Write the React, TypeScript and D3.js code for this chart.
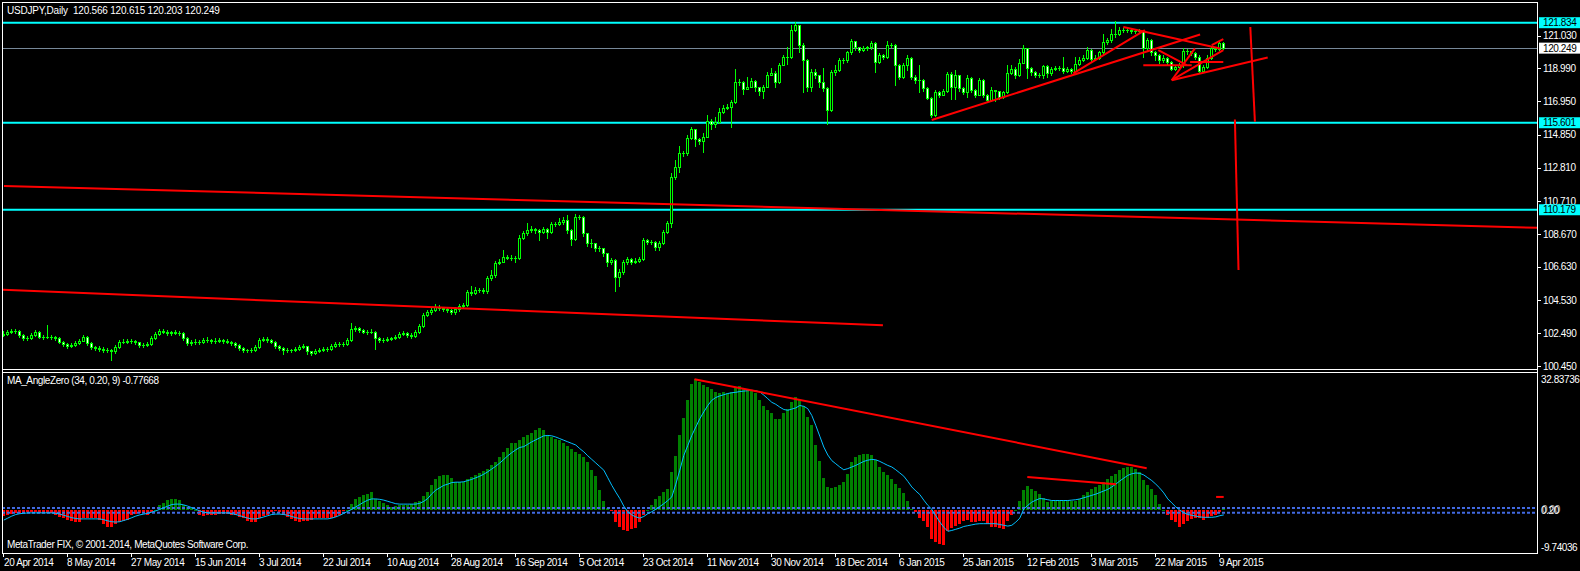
import React from "react";
import * as d3 from "d3";

// ---------- DATA ----------
const TITLE = "USDJPY,Daily  120.566 120.615 120.203 120.249";
const IND_TITLE = "MA_AngleZero (34, 0.20, 9) -0.77668";
const FOOTER = "MetaTrader FIX, \u00A9 2001-2014, MetaQuotes Software Corp.";

const firstOpen = 102.4;

const closes = [
  102.45, 102.57, 102.64, 102.64, 102.39, 102.18, 102.16, 102.39, 102.59, 102.28,
  102.24, 102.28, 102.24, 102.18, 101.97, 101.83, 101.70, 101.76, 101.87, 102.03,
  102.24, 101.87, 101.62, 101.56, 101.52, 101.45, 101.41, 101.35, 101.62, 101.97,
  101.97, 102.01, 102.01, 101.91, 101.76, 101.76, 101.83, 102.18, 102.45, 102.64,
  102.59, 102.49, 102.55, 102.53, 102.49, 102.18, 101.87, 101.91, 101.97, 101.91,
  102.08, 102.08, 101.99, 102.03, 102.08, 102.01, 101.97, 101.87, 101.76, 101.56,
  101.45, 101.41, 101.45, 101.62, 102.08, 102.12, 102.08, 101.97, 101.70, 101.56,
  101.45, 101.41, 101.41, 101.50, 101.62, 101.66, 101.35, 101.25, 101.39, 101.45,
  101.50, 101.50, 101.70, 101.83, 101.83, 101.83, 102.08, 102.74, 102.80, 102.66,
  102.59, 102.59, 102.59, 102.18, 102.08, 102.08, 102.12, 102.16, 102.24, 102.45,
  102.49, 102.39, 102.32, 102.59, 102.91, 103.63, 103.78, 103.94, 104.15, 104.05,
  103.98, 103.94, 103.78, 103.98, 104.19, 104.25, 105.05, 105.00, 105.20, 105.20,
  105.10, 105.90, 106.10, 106.85, 106.95, 107.25, 107.20, 107.20, 107.15, 108.44,
  108.70, 108.90, 109.00, 108.90, 108.80, 109.00, 108.80, 109.30, 109.28, 109.40,
  109.55, 108.90, 108.34, 109.75, 109.75, 108.70, 108.10, 108.10, 107.80, 107.80,
  107.50, 106.95, 107.05, 106.00, 106.30, 106.90, 107.10, 106.95, 107.00, 107.10,
  108.30, 108.20, 108.20, 107.85, 108.10, 108.78, 109.34, 112.24, 112.86, 113.70,
  113.70, 114.67, 115.20, 114.60, 114.46, 114.73, 115.70, 115.55, 115.66, 116.24,
  116.53, 116.60, 116.87, 118.11, 118.15, 117.70, 117.84, 118.20, 117.80, 117.57,
  117.84, 118.57, 118.73, 118.15, 119.19, 119.70, 119.70, 121.37, 121.68, 120.47,
  119.50, 117.84, 118.77, 118.57, 118.15, 117.74, 116.39, 118.77, 118.88, 119.50,
  119.50, 119.98, 120.68, 120.33, 120.12, 120.27, 120.29, 120.60, 119.40, 119.80,
  119.70, 120.43, 120.47, 119.19, 118.46, 119.19, 119.66, 118.46, 118.26, 118.26,
  117.78, 117.16, 116.08, 117.53, 117.36, 117.57, 118.61, 117.84, 118.57, 117.74,
  117.53, 118.36, 117.63, 117.36, 118.26, 117.32, 117.00, 117.63, 117.57, 117.22,
  117.49, 118.73, 118.98, 118.57, 119.35, 120.23, 119.02, 118.77, 118.57, 118.57,
  119.15, 118.67, 118.98, 119.02, 119.02, 118.82, 118.94, 118.82, 119.29, 119.54,
  119.65, 120.12, 119.60, 119.64, 119.98, 120.64, 120.74, 121.16, 121.10, 121.37,
  121.37, 121.37, 121.30, 121.30, 121.30, 120.23, 120.74, 119.98, 119.81, 119.50,
  119.65, 119.40, 118.98, 119.08, 119.19, 120.06, 120.06, 119.92, 119.71, 118.82,
  119.08, 119.65, 120.23, 120.19, 120.566, 120.249,
];

const highs = [
  102.62, 102.70, 102.75, 102.78, 102.70, 102.45, 102.30, 102.48, 102.70, 102.65,
  102.36, 103.00, 102.36, 102.30, 102.24, 102.02, 101.90, 101.88, 101.98, 102.15,
  102.36, 102.30, 101.93, 101.70, 101.66, 101.60, 101.55, 101.52, 101.75, 102.08,
  102.10, 102.12, 102.14, 102.08, 101.96, 101.90, 101.95, 102.30, 102.58, 102.78,
  102.75, 102.66, 102.65, 102.66, 102.64, 102.55, 102.24, 102.04, 102.10, 102.06,
  102.20, 102.22, 102.14, 102.16, 102.20, 102.15, 102.10, 102.02, 101.92, 101.80,
  101.62, 101.53, 101.56, 101.74, 102.20, 102.24, 102.22, 102.12, 102.00, 101.75,
  101.62, 101.55, 101.52, 101.62, 101.75, 101.80, 101.70, 101.40, 101.50, 101.56,
  101.62, 101.62, 101.82, 101.95, 101.95, 101.95, 102.20, 103.10, 102.95, 102.85,
  102.72, 102.70, 102.72, 102.65, 102.25, 102.20, 102.25, 102.28, 102.35, 102.58,
  102.62, 102.55, 102.48, 102.70, 103.05, 103.75, 103.92, 104.08, 104.28, 104.22,
  104.12, 104.08, 104.00, 104.10, 104.30, 104.38, 105.20, 105.40, 105.35, 105.33,
  105.30, 106.05, 106.40, 107.00, 107.10, 107.70, 107.38, 107.35, 107.30, 108.60,
  108.85, 109.35, 109.15, 109.05, 109.00, 109.10, 109.05, 109.40, 109.40, 109.65,
  109.75, 109.85, 108.95, 109.90, 109.85, 109.80, 108.70, 108.35, 108.10, 107.95,
  107.70, 107.50, 107.20, 107.10, 106.50, 107.05, 107.25, 107.15, 107.15, 107.25,
  108.40, 108.35, 108.30, 108.25, 108.25, 108.90, 109.45, 112.45, 113.25, 114.15,
  113.85, 114.85, 115.35, 115.20, 114.65, 114.95, 116.10, 115.85, 115.95, 116.55,
  116.70, 116.74, 117.00, 118.94, 118.35, 118.20, 118.46, 118.40, 118.25, 117.85,
  117.98, 118.75, 119.00, 118.80, 119.35, 119.82, 120.30, 121.72, 121.85, 121.70,
  120.60, 119.60, 118.95, 118.98, 118.60, 119.00, 117.80, 118.90, 119.20, 119.62,
  119.62, 120.10, 120.80, 120.70, 120.35, 120.38, 120.40, 120.70, 120.65, 119.95,
  119.90, 120.70, 120.60, 120.50, 119.25, 119.35, 119.80, 119.70, 118.55, 119.19,
  118.30, 117.85, 117.20, 117.65, 117.60, 117.70, 118.77, 118.77, 118.90, 118.60,
  117.80, 118.55, 118.45, 117.70, 118.40, 118.30, 117.40, 117.80, 117.63, 117.60,
  117.60, 119.19, 119.19, 119.05, 119.60, 120.43, 120.25, 119.10, 118.85, 118.70,
  119.19, 119.19, 119.10, 119.15, 119.15, 119.70, 119.05, 119.00, 119.70, 119.70,
  119.80, 120.33, 120.20, 119.80, 120.10, 121.16, 120.90, 121.47, 121.93, 121.55,
  121.50, 121.50, 121.45, 121.42, 121.42, 121.40, 120.90, 120.80, 120.05, 119.90,
  119.80, 119.70, 119.45, 119.20, 119.30, 120.23, 120.20, 120.10, 120.00, 119.80,
  119.20, 119.80, 120.35, 120.35, 120.70, 120.615,
];

const lows = [
  102.30, 102.38, 102.48, 102.52, 102.28, 102.05, 102.05, 102.10, 102.33, 102.20,
  102.12, 102.18, 102.15, 102.08, 101.85, 101.70, 101.58, 101.62, 101.70, 101.80,
  101.98, 101.78, 101.50, 101.45, 101.40, 101.33, 101.30, 100.83, 101.28, 101.55,
  101.85, 101.88, 101.90, 101.80, 101.65, 101.64, 101.70, 101.76, 102.10, 102.38,
  102.48, 102.38, 102.40, 102.42, 102.38, 102.06, 101.75, 101.78, 101.82, 101.80,
  101.85, 101.96, 101.88, 101.90, 101.95, 101.90, 101.86, 101.75, 101.64, 101.45,
  101.33, 101.30, 101.32, 101.40, 101.55, 101.98, 101.96, 101.85, 101.58, 101.44,
  101.20, 101.30, 101.30, 101.36, 101.45, 101.55, 101.22, 101.13, 101.18, 101.30,
  101.38, 101.40, 101.45, 101.65, 101.72, 101.72, 101.78, 102.00, 102.62, 102.55,
  102.48, 102.46, 102.48, 101.50, 101.95, 101.96, 101.98, 102.04, 102.10, 102.18,
  102.38, 102.28, 102.20, 102.25, 102.52, 102.85, 103.55, 103.70, 103.88, 103.92,
  103.85, 103.82, 103.66, 103.70, 103.90, 104.12, 104.20, 104.88, 104.90, 105.05,
  104.98, 105.00, 105.80, 106.00, 106.80, 106.90, 107.08, 107.05, 106.90, 107.10,
  108.35, 108.60, 108.82, 108.75, 108.30, 108.70, 108.45, 108.75, 109.15, 109.20,
  109.30, 108.70, 108.00, 108.30, 109.60, 108.55, 107.90, 107.85, 107.60, 107.62,
  107.30, 106.70, 106.80, 105.10, 105.45, 106.20, 106.80, 106.80, 106.85, 106.90,
  107.05, 108.05, 108.05, 107.70, 107.70, 108.05, 108.70, 109.10, 112.10, 112.55,
  113.55, 113.60, 114.60, 114.15, 114.30, 113.80, 114.75, 115.20, 115.35, 115.60,
  116.20, 116.45, 115.35, 116.80, 117.95, 117.40, 117.70, 117.80, 117.60, 117.35,
  117.16, 117.80, 118.55, 117.80, 118.10, 119.20, 119.25, 119.65, 121.30, 120.00,
  117.53, 117.60, 117.60, 118.40, 117.85, 117.55, 115.50, 116.35, 118.60, 118.80,
  119.35, 119.40, 119.90, 120.15, 120.00, 120.05, 120.15, 120.20, 118.78, 119.30,
  119.55, 119.65, 120.30, 117.94, 118.30, 118.40, 118.90, 118.30, 118.10, 117.53,
  117.60, 117.05, 115.97, 116.05, 117.20, 117.30, 117.50, 117.10, 117.10, 117.60,
  117.40, 117.22, 117.50, 117.22, 117.30, 117.20, 116.90, 116.95, 116.95, 117.10,
  117.15, 117.45, 118.65, 118.40, 118.50, 119.30, 118.40, 118.60, 118.45, 118.45,
  118.38, 118.48, 118.60, 118.90, 118.90, 118.67, 118.75, 118.70, 118.75, 119.20,
  119.45, 119.60, 119.45, 119.50, 119.55, 119.90, 120.50, 120.65, 120.95, 121.05,
  121.25, 121.25, 121.20, 121.18, 121.18, 119.70, 120.10, 119.85, 119.50, 119.35,
  119.40, 119.25, 118.90, 118.90, 119.00, 119.10, 119.90, 119.80, 119.60, 118.67,
  118.75, 119.00, 119.60, 120.05, 120.15, 120.203,
];

const histogram = [
  -1.5, -1.1, -0.9, -0.6, -0.6, -0.6, -0.4, -0.4, -0.4, -0.6,
  -0.6, -0.6, -0.6, -1.1, -1.8, -2.1, -2.5, -2.7, -3.1, -3.1,
  -2.1, -2.1, -2.1, -2.1, -2.5, -3.4, -4.2, -4.2, -3.6, -3.1,
  -2.8, -2.5, -1.1, -0.9, -0.6, -0.6, -1.1, -0.4, 0.1, 1.2,
  1.9, 2.6, 2.9, 2.9, 2.6, 1.4, 0.8, 0.5, 0.05, -1.3,
  -1.5, -1.3, -1.1, -1.1, -0.9, -0.9, -0.9, -1.1, -1.3, -1.7,
  -2.1, -2.8, -3.1, -3.1, -2.1, -1.5, -1.1, -0.4, -0.3, -0.4,
  -1.1, -1.7, -2.3, -2.8, -3.0, -2.8, -2.8, -2.5, -2.1, -2.1,
  -2.1, -2.1, -2.1, -1.8, -1.3, -0.3, 0.05, 1.6, 2.9, 3.3,
  3.7, 4.1, 4.5, 2.9, 2.2, 1.9, 1.4, 0.8, 1.0, 1.2,
  1.2, 1.4, 1.6, 2.0, 2.2, 3.5, 4.5, 6.2, 7.7, 8.5,
  8.9, 8.7, 8.1, 7.1, 7.1, 7.1, 7.9, 8.3, 8.7, 9.4,
  9.9, 10.4, 11.4, 12.0, 13.3, 14.6, 15.6, 16.9, 16.9, 17.5,
  18.3, 18.9, 19.4, 20.0, 20.6, 20.0, 18.7, 18.3, 17.9, 17.5,
  16.9, 16.0, 15.2, 14.6, 14.1, 13.3, 12.1, 10.0, 8.6, 5.0,
  2.2, 0.5, -0.3, -3.0, -4.2, -5.1, -5.2, -4.8, -4.6, -3.1,
  -1.1, 0.05, 1.4, 2.9, 3.5, 4.5, 5.4, 9.5, 13.6, 18.7,
  23.1, 27.5, 31.7, 32.8, 32.1, 31.4, 30.8, 30.4, 29.7, 29.4,
  29.6, 29.4, 29.7, 30.6, 31.1, 30.4, 30.2, 30.0, 29.4, 27.5,
  26.1, 25.0, 24.4, 22.9, 22.9, 24.2, 25.4, 27.2, 28.3, 27.7,
  26.2, 23.3, 21.2, 16.4, 12.2, 8.1, 5.8, 5.5, 5.8, 6.2,
  7.0, 9.1, 12.1, 13.3, 13.9, 14.1, 14.1, 13.7, 12.5, 10.8,
  9.5, 8.7, 7.9, 6.6, 5.5, 4.4, 2.2, 0.4, -0.5, -2.1,
  -2.8, -4.2, -7.2, -8.0, -8.4, -8.7, -5.3, -4.6, -4.0, -3.4,
  -2.8, -2.6, -3.1, -3.1, -2.8, -2.8, -3.6, -4.2, -4.2, -4.4,
  -4.8, -2.8, -1.3, 0.05, 2.2, 5.0, 6.0, 5.2, 4.7, 4.1,
  3.0, 2.0, 2.4, 2.4, 2.4, 2.4, 2.4, 2.2, 2.4, 2.9,
  3.7, 4.5, 5.4, 5.8, 6.2, 7.0, 7.9, 8.5, 9.1, 10.0,
  10.5, 10.8, 10.8, 10.4, 9.5, 7.5, 6.2, 5.2, 3.9, 1.6,
  0.1, -1.1, -2.6, -3.0, -4.2, -3.4, -2.8, -2.3, -2.0, -2.1,
  -2.6, -2.1, -1.5, -1.1, -0.5, 0.5,
];

const signal = [
  -2.5, -2.0, -1.5, -1.1, -0.9, -0.8, -0.7, -0.7, -0.7, -0.7,
  -0.7, -0.7, -0.7, -0.8, -1.0, -1.3, -1.6, -1.9, -2.1, -2.2,
  -2.2, -2.2, -2.2, -2.2, -2.2, -2.4, -2.7, -2.9, -3.0, -2.9,
  -2.6, -2.3, -1.9, -1.5, -1.2, -1.0, -0.8, -0.5, -0.2, 0.2,
  0.6, 1.0, 1.4, 1.5, 1.5, 1.3, 1.0, 0.6, 0.2, -0.2,
  -0.5, -0.7, -0.7, -0.7, -0.7, -0.7, -0.7, -0.9, -1.1, -1.4,
  -1.7, -2.0, -2.2, -2.2, -2.0, -1.7, -1.4, -1.1, -1.0, -1.0,
  -1.1, -1.3, -1.6, -1.9, -2.1, -2.2, -2.2, -2.2, -2.2, -2.2,
  -2.2, -2.2, -2.0, -1.7, -1.3, -0.8, -0.3, 0.2, 0.8, 1.4,
  2.0, 2.5, 2.8, 2.8, 2.7, 2.5, 2.2, 1.9, 1.6, 1.5,
  1.5, 1.5, 1.5, 1.5, 1.7, 2.2, 2.9, 4.1, 5.0, 5.6,
  6.2, 6.5, 6.9, 7.0, 7.0, 7.1, 7.4, 7.7, 8.1, 8.5,
  9.0, 9.6, 10.3, 11.0, 11.8, 12.7, 13.6, 14.4, 15.1, 15.7,
  15.9, 16.5, 17.1, 17.6, 18.1, 18.6, 18.7, 18.6, 18.3, 17.9,
  17.5, 17.1, 16.7, 16.3, 15.4, 14.6, 13.6, 12.7, 11.8, 10.9,
  10.0, 8.1, 6.2, 4.5, 2.9, 1.0, -0.4, -1.2, -1.7, -2.0,
  -1.6, -0.9, -0.4, 0.2, 0.9, 1.6, 2.4, 3.3, 6.5, 10.0,
  13.7, 16.2, 18.7, 20.8, 22.9, 24.6, 26.2, 27.5, 28.2, 28.6,
  28.9, 29.2, 29.4, 29.5, 29.7, 29.8, 29.9, 30.0, 29.9, 29.6,
  28.8, 27.9, 27.0, 26.5, 25.8, 25.2, 25.0, 25.3, 25.6, 26.2,
  26.0, 25.4, 23.7, 21.2, 18.5, 15.8, 13.8, 12.4, 11.6, 10.8,
  10.1, 10.4, 10.8, 11.2, 11.7, 12.2, 12.5, 12.7, 12.6, 12.2,
  11.7, 11.2, 10.8, 10.1, 9.3, 8.5, 7.2, 5.8, 4.8, 3.9,
  2.5, 1.2, 0.2, -1.4, -3.0, -4.3, -5.3, -5.1, -4.8, -4.5,
  -4.1, -3.9, -3.7, -3.5, -3.4, -3.4, -3.4, -3.4, -3.4, -3.6,
  -3.8, -4.0, -3.8, -3.0, -2.0, 0.3, 1.2, 2.0, 2.5, 2.9,
  2.8, 2.6, 2.4, 2.4, 2.4, 2.4, 2.4, 2.5, 2.6, 2.8,
  3.1, 3.4, 3.7, 4.0, 4.4, 4.8, 5.2, 5.8, 6.5, 7.3,
  8.0, 8.7, 9.1, 9.3, 9.2, 8.8, 8.1, 7.4, 6.5, 5.5,
  4.3, 2.8, 1.8, 0.8, 0.0, -0.6, -1.1, -1.3, -1.5, -1.7,
  -1.8, -1.8, -1.8, -1.7, -1.4, -1.2,
];

const dateLabels = [
  "20 Apr 2014", "8 May 2014", "27 May 2014", "15 Jun 2014", "3 Jul 2014",
  "22 Jul 2014", "10 Aug 2014", "28 Aug 2014", "16 Sep 2014", "5 Oct 2014",
  "23 Oct 2014", "11 Nov 2014", "30 Nov 2014", "18 Dec 2014", "6 Jan 2015",
  "25 Jan 2015", "12 Feb 2015", "3 Mar 2015", "22 Mar 2015", "9 Apr 2015",
];
const barsPerLabel = 16;

const priceTicks = [121.03, 118.99, 116.95, 114.85, 112.81, 110.71, 108.67, 106.63, 104.53, 102.49, 100.45];
const levelLines = [121.834, 115.601, 110.179];
const bidPrice = 120.249;

// trend lines: [bar1, price1, bar2, price2]
const mainTrendLines: [number, number, number, number][] = [
  [0.175, 111.66, 383.7, 109.05],
  [-0.075, 105.19, 219.9, 102.98],
  [232.1, 115.77, 299.2, 121.1],
  [267.5, 118.67, 285.4, 121.37],
  [280, 121.57, 304.2, 120.23],
  [285, 119.19, 297.1, 119.19],
  [296.7, 119.39, 305, 119.39],
  [288.75, 120.12, 295.85, 119.19],
  [292.1, 118.25, 305, 120.12],
  [292.1, 118.25, 297.9, 120.23],
  [292.1, 118.25, 316.1, 119.66],
  [302.1, 120.43, 305, 120.81],
  [311.75, 121.57, 312.9, 115.66],
  [307.9, 115.8, 308.8, 106.43],
];
const indTrendLines: [number, number, number, number][] = [
  [172.8, 32.8, 285.85, 10.5],
  [256, 8.3, 278.2, 6.5],
  [303.2, 3.3, 305.1, 3.3],
];
const indMax = 32.83736;
const indMin = -9.74036;
const indLevels = [0.4, -0.4];

// ---------- CHART ----------
const W = 1580;
const H = 571;
const FONT = "'Liberation Sans', Arial, sans-serif";

export default function App() {
  const n = closes.length;
  const x = d3.scaleLinear().domain([0, n - 1]).range([3.3, 3.3 + 4 * (n - 1)]);
  const yP = d3.scaleLinear().domain([100.45, 121.834]).range([365.9, 22.7]);
  const yI = d3.scaleLinear().domain([indMin, indMax]).range([549, 379]);

  const opens = closes.map((c, i) => (i === 0 ? firstOpen : closes[i - 1]));

  const candles = closes.map((c, i) => {
    const o = opens[i];
    const cx = Math.round(x(i));
    const hi = Math.max(highs[i], o, c);
    const lo = Math.min(lows[i], o, c);
    const top = Math.round(yP(Math.max(o, c)));
    const bot = Math.round(yP(Math.min(o, c)));
    const yh = Math.round(yP(hi));
    const yl = Math.round(yP(lo));
    const bull = c >= o;
    const bh = bot - top;
    return (
      <g key={i}>
        <rect x={cx} y={yh} width={1} height={Math.max(1, yl - yh + 1)} fill="#00FF00" />
        <rect x={cx - 1} y={top} width={3} height={Math.max(1, bh + 1)} fill="#00FF00" />
        {bh >= 2 && (
          <rect x={cx} y={top + 1} width={1} height={bh - 1} fill={bull ? "#000000" : "#FFFFFF"} />
        )}
      </g>
    );
  });

  const zeroY = yI(0);
  const bars = histogram.map((v, i) => {
    const cx = Math.round(x(i));
    const y1 = Math.round(yI(Math.max(v, 0)));
    const y2 = Math.round(yI(Math.min(v, 0)));
    return (
      <rect
        key={i}
        x={cx - 1}
        y={y1}
        width={3}
        height={Math.max(1, y2 - y1)}
        fill={v >= 0 ? "#008000" : "#FF0000"}
      />
    );
  });

  const sigLine = d3
    .line<number>()
    .x((_, i) => x(i) + 0.5)
    .y((v) => yI(v))(signal) as string;

  const labelStyle: React.CSSProperties = { letterSpacing: "-0.4px", whiteSpace: "pre" };

  return (
    <svg
      width={W}
      height={H}
      style={{ position: "absolute", left: 0, top: 0, background: "#000" }}
      fontFamily={FONT}
      fontSize={10}
    >
      <defs>
        <clipPath id="mainClip">
          <rect x={3} y={3} width={1535} height={366} />
        </clipPath>
        <clipPath id="indClip">
          <rect x={3} y={373} width={1535} height={180} />
        </clipPath>
      </defs>
      <rect x={0} y={0} width={W} height={H} fill="#000" />

      {/* main panel */}
      <g clipPath="url(#mainClip)">
        {levelLines.map((v) => (
          <line key={v} x1={2} x2={1538} y1={yP(v)} y2={yP(v)} stroke="#00FFFF" strokeWidth={2} />
        ))}
        <line x1={2} x2={1538} y1={Math.round(yP(bidPrice)) + 0.5} y2={Math.round(yP(bidPrice)) + 0.5} stroke="#778899" strokeWidth={1} />
        {candles}
        {mainTrendLines.map((t, k) => (
          <line key={k} x1={x(t[0])} y1={yP(t[1])} x2={x(t[2])} y2={yP(t[3])} stroke="#FF0000" strokeWidth={2} />
        ))}
      </g>

      {/* indicator */}
      <g clipPath="url(#indClip)">
        {bars}
        {indLevels.map((v) => (
          <line key={v} x1={2} x2={1538} y1={yI(v) + (v > 0 ? -0.5 : 1)} y2={yI(v) + (v > 0 ? -0.5 : 1)} stroke="#4169E1" strokeWidth={2} strokeDasharray="3,2" />
        ))}
        <path d={sigLine} fill="none" stroke="#00BFFF" strokeWidth={1} />
        {indTrendLines.map((t, k) => (
          <line key={k} x1={x(t[0])} y1={yI(t[1])} x2={x(t[2])} y2={yI(t[3])} stroke="#FF0000" strokeWidth={2} />
        ))}
      </g>

      {/* frames */}
      <g stroke="#FFFFFF" strokeWidth={1} fill="none" shapeRendering="crispEdges">
        <line x1={2.5} y1={2} x2={2.5} y2={554} />
        <line x1={2} y1={2.5} x2={1538} y2={2.5} />
        <line x1={1537.5} y1={2} x2={1537.5} y2={554} />
        <line x1={2} y1={369.5} x2={1538} y2={369.5} />
        <line x1={2} y1={372.5} x2={1538} y2={372.5} />
        <line x1={2} y1={553.5} x2={1538} y2={553.5} />
      </g>

      {/* price axis */}
      {priceTicks.map((v) => (
        <g key={v}>
          <line x1={1538} x2={1541} y1={Math.round(yP(v)) + 0.5} y2={Math.round(yP(v)) + 0.5} stroke="#FFF" />
          <text x={1543} y={yP(v) + 3.6} fill="#FFF" style={labelStyle}>
            {v.toFixed(3)}
          </text>
        </g>
      ))}
      {levelLines.map((v) => (
        <g key={v}>
          <rect x={1539} y={yP(v) - 5.5} width={41} height={11} fill="#00FFFF" />
          <text x={1543} y={yP(v) + 3.6} fill="#000" style={labelStyle}>
            {v.toFixed(3)}
          </text>
        </g>
      ))}
      <rect x={1539} y={yP(bidPrice) - 5.5} width={41} height={11} fill="#FFFFFF" />
      <text x={1543} y={yP(bidPrice) + 3.6} fill="#000" style={labelStyle}>
        {bidPrice.toFixed(3)}
      </text>

      {/* indicator axis */}
      <text x={1541} y={yI(indMax) + 3.5} fill="#FFF" style={labelStyle}>{indMax.toFixed(5)}</text>
      <text x={1541} y={yI(indMin) + 1.5} fill="#FFF" style={labelStyle}>{indMin.toFixed(5)}</text>
      <text x={1541} y={zeroY + 4} fill="#FFF" style={labelStyle}>0.20</text>
      <text x={1542} y={zeroY + 3} fill="#FFF" style={labelStyle} opacity={0.7}>0.00</text>

      {/* date axis */}
      {dateLabels.map((lab, k) => {
        const cx = Math.round(x(k * barsPerLabel));
        return (
          <g key={lab}>
            <line x1={cx + 0.5} x2={cx + 0.5} y1={553} y2={557} stroke="#FFF" />
            <text x={Math.max(4, cx)} y={566} fill="#FFF" style={labelStyle}>{lab}</text>
          </g>
        );
      })}

      {/* titles */}
      <text x={7} y={14} fill="#FFF" xmlSpace="preserve" style={{ whiteSpace: "pre", letterSpacing: "-0.2px" }}>{TITLE}</text>
      <text x={7} y={384} fill="#FFF" style={labelStyle}>{IND_TITLE}</text>
      <text x={7} y={548} fill="#FFF" style={labelStyle}>{FOOTER}</text>
    </svg>
  );
}
